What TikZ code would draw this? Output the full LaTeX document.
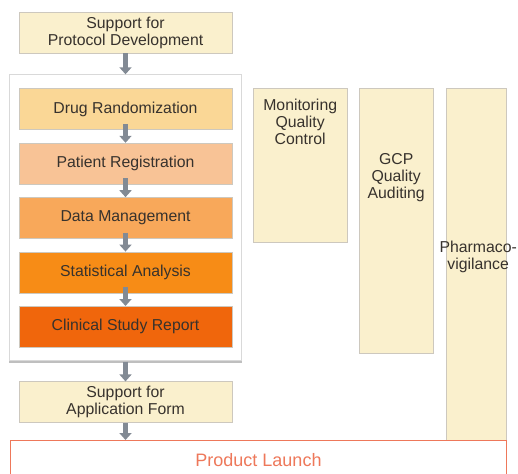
\documentclass[tikz,border=0pt]{standalone}
\usepackage{fontspec}
\setmainfont{Liberation Sans}
\usetikzlibrary{arrows.meta,positioning,fit,backgrounds}

\definecolor{paleyel}{RGB}{250,240,205}
\definecolor{boxline}{RGB}{205,200,190}
\definecolor{drugcol}{RGB}{250,215,150}
\definecolor{patcol}{RGB}{248,195,150}
\definecolor{datacol}{RGB}{248,168,90}
\definecolor{statcol}{RGB}{247,140,22}
\definecolor{csrcol}{RGB}{240,102,12}
\definecolor{launchcol}{RGB}{238,120,90}
\definecolor{arrowgray}{RGB}{130,138,148}
\definecolor{txt}{RGB}{55,50,45}

\begin{document}
\begin{tikzpicture}[
    x=1pt, y=-1pt,
    node distance=13pt,
    box/.style={draw=boxline, rectangle, align=center, inner sep=0pt,
                minimum width=213pt, minimum height=41pt, text=txt,
                font=\fontsize{15.8}{17}\selectfont},
    col/.style={draw=boxline, fill=paleyel, rectangle, inner sep=0pt, anchor=north west},
    coltext/.style={align=center, inner sep=0pt, text=txt, font=\fontsize{15.8}{17}\selectfont},
    arrow/.style={-{Triangle[width=12pt,length=7pt]}, line width=4.5pt, draw=arrowgray}
]
\useasboundingbox (0,0) rectangle (518,473);

% left column
\node[box, fill=paleyel, anchor=north] (proto) at (125.5,12) {Support for\\Protocol Development};
\node[box, fill=drugcol, below=35pt of proto] (drug) {Drug Randomization};
\node[box, fill=patcol, below=of drug] (patient) {Patient Registration};
\node[box, fill=datacol, below=of patient] (datamgmt) {Data Management};
\node[box, fill=statcol, below=of datamgmt] (stats) {Statistical Analysis};
\node[box, fill=csrcol, below=of stats] (csr) {Clinical Study Report};
\node[box, fill=paleyel, below=34pt of csr] (appform) {Support for\\Application Form};

% panel round the inner steps
\begin{scope}[on background layer]
\node[draw=black!15, fill=white, line width=1.2pt, inner xsep=9pt, inner ysep=13.5pt,
      fit=(drug)(csr)] (panel) {};
\draw[black!25, line width=2pt] (panel.south west) -- (panel.south east);
\end{scope}

% side columns
\node[col, minimum width=94pt, minimum height=154pt] (monitor) at (253,88) {};
\node[col, minimum width=74pt, minimum height=265pt] (gcp) at (359,88) {};
\node[col, minimum width=60pt, minimum height=360pt] (pharma) at (446,88) {};

\node[coltext, below=11pt of monitor.north] (montext) {Monitoring\\Quality\\Control};
\node[coltext] (gcptext) at ([yshift=-90pt]gcp.north) {GCP\\Quality\\Auditing};
\node[coltext] (pvtext) at ([xshift=2pt,yshift=-169pt]pharma.north) {Pharmaco-\\vigilance};

% launch bar
\node[draw=launchcol, fill=white, line width=1pt, rectangle, anchor=north west,
      minimum width=496pt, minimum height=40pt, inner sep=0pt, text=launchcol,
      font=\fontsize{18}{20}\selectfont] (launch) at (10,440) {Product Launch};

% arrows
\draw[arrow] (proto) -- (panel);
\draw[arrow] ([yshift=6pt]drug.south) -- (patient);
\draw[arrow] ([yshift=6pt]patient.south) -- (datamgmt);
\draw[arrow] ([yshift=6pt]datamgmt.south) -- (stats);
\draw[arrow] ([yshift=6pt]stats.south) -- (csr);
\draw[arrow] (panel) -- (appform);
\draw[arrow] (appform) -- (appform |- launch.north);
\end{tikzpicture}
\end{document}
